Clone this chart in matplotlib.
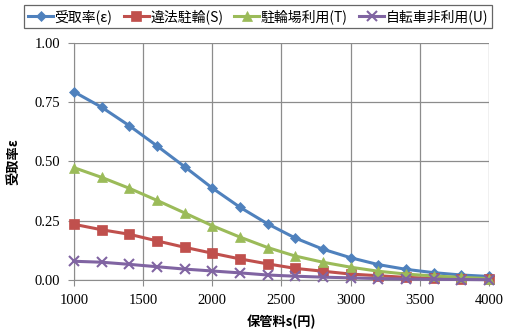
import numpy as np
import matplotlib
matplotlib.use("Agg")
import matplotlib.pyplot as plt

plt.rcParams['font.family'] = ['Noto Sans CJK JP', 'DejaVu Sans']

# storage fee s (yen)
fee = [1000, 1200, 1400, 1600, 1800, 2000, 2200, 2400,
       2600, 2800, 3000, 3200, 3400, 3600, 3800, 4000]

accept_rate = [0.794, 0.729, 0.651, 0.566, 0.478, 0.388, 0.307, 0.237,
               0.177, 0.130, 0.094, 0.065, 0.045, 0.031, 0.021, 0.015]
illegal_parking = [0.235, 0.212, 0.193, 0.165, 0.138, 0.113, 0.089, 0.068,
                   0.049, 0.037, 0.025, 0.018, 0.011, 0.007, 0.004, 0.003]
parking_use = [0.474, 0.433, 0.387, 0.336, 0.283, 0.229, 0.181, 0.137,
               0.101, 0.075, 0.054, 0.037, 0.025, 0.017, 0.011, 0.006]
no_bicycle = [0.079, 0.075, 0.066, 0.056, 0.046, 0.038, 0.030, 0.021,
              0.016, 0.012, 0.009, 0.006, 0.004, 0.003, 0.002, 0.001]

series = [
    ("受取率(ε)", accept_rate, '#4F81BD', 'D', 5.5),
    ("違法駐輪(S)", illegal_parking, '#C0504D', 's', 7),
    ("駐輪場利用(T)", parking_use, '#9BBB59', '^', 7.5),
    ("自転車非利用(U)", no_bicycle, '#8064A2', 'x', 7),
]

x_ticks = [1000, 1500, 2000, 2500, 3000, 3500, 4000]
y_ticks = [0.0, 0.25, 0.5, 0.75, 1.0]

fig = plt.figure(figsize=(5.05, 3.36), dpi=100)
ax = fig.add_axes([0.1465, 0.1667, 0.8215, 0.7053])

for label, vals, color, marker, ms in series:
    ax.plot(fee, vals, color=color, lw=2.2, marker=marker, ms=ms,
            mew=1.5 if marker == 'x' else 0.5, mec=color, label=label,
            clip_on=False, zorder=3)

ax.set_xlim(1000, 4000)
ax.set_ylim(0, 1.0)
ax.set_xticks(x_ticks)
ax.set_yticks(y_ticks)
ax.set_xticklabels([str(v) for v in x_ticks])
ax.set_yticklabels([f"{v:.2f}" for v in y_ticks])
ax.tick_params(direction='out', length=4, color='#8c8c8c', pad=6,
               labelsize=10.5, labelfontfamily='Liberation Serif')
ax.grid(True, color='#8c8c8c', lw=0.9)
ax.set_axisbelow(True)
for side in ['top', 'right']:
    ax.spines[side].set_visible(False)
for side in ['left', 'bottom']:
    ax.spines[side].set_color('#8c8c8c')

ax.set_xlabel("保管料s(円)", fontsize=9.5, fontweight='bold', labelpad=6)
ax.set_ylabel("受取率ε", fontsize=9.5, fontweight='bold', labelpad=10)

leg = fig.legend(loc='upper left', bbox_to_anchor=(0.0475, 0.905, 0.927, 0.08),
                 mode='expand', ncol=4, fontsize=10, frameon=True, fancybox=False,
                 handlelength=1.8, handletextpad=0.1, columnspacing=0.8,
                 borderpad=0.3, borderaxespad=0)
leg.get_frame().set_edgecolor('#404040')
leg.get_frame().set_linewidth(0.9)

fig.savefig("out.png", dpi=100)
